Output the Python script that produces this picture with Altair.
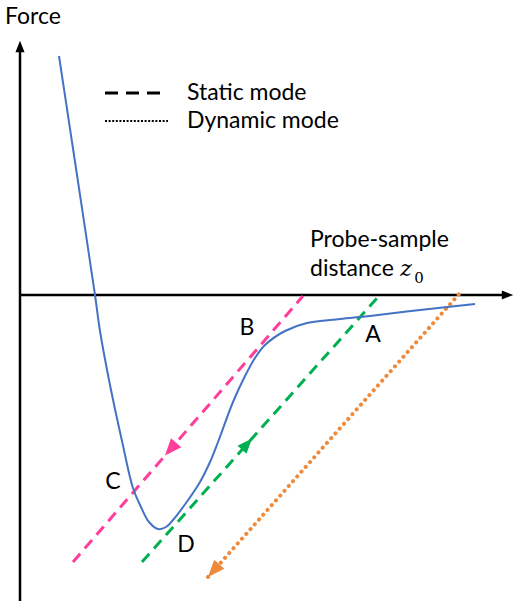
import numpy as np
import pandas as pd
import altair as alt

# Force vs. probe-sample distance (arbitrary units, 1 unit = 10 px on both axes)
curve_z = [3.9, 5.7, 7.5, 8.0, 9.0, 10.2, 11.3, 12.1, 12.9, 13.8, 14.6, 15.3, 16.6,
           18.0, 19.0, 19.8, 21.3, 22.5, 23.5, 24.5, 26.5, 28.7, 32.0, 35.0, 40.0, 45.5]
curve_f = [23.9, 12.0, 0.0, -3.6, -9.0, -14.6, -19.3, -21.2, -22.7, -23.4, -23.2, -22.5, -20.8,
           -18.7, -16.7, -14.7, -10.7, -8.1, -6.3, -5.0, -3.6, -2.8, -2.4, -2.1, -1.5, -0.9]

# Approach / retract paths: start and end points
path_names = ["static_left", "static_right", "dynamic"]
path_colors = ["#FF3D9A", "#00B050", "#F08A3A"]
path_z0 = [5.3, 12.2, 18.8]
path_z1 = [28.3, 35.8, 44.0]
path_f0 = [-26.7, -26.7, -28.2]
path_f1 = [-0.1, -0.2, 0.2]
# arrowhead: fraction along the path where the tip sits, and direction (+1 toward end)
arrow_t = [0.40, 0.466, 0.0]
arrow_dir = [-1, 1, -1]
arrow_len = [1.7, 1.5, 1.7]

# Labelled points
point_labels = ["A", "B", "C", "D"]
point_z = [35.3, 22.7, 9.3, 16.6]
point_f = [-4.0, -3.3, -18.7, -25.0]

# Axes extents
x_axis_end = 49.3
y_axis_bottom = -30.6
y_axis_top = 25.4

ARROW = "M0,-1L0.8,1L-0.8,1Z"
FONT = "Lato"

X = alt.Scale(domain=[-2.0, 49.4], nice=False, zero=False)
Y = alt.Scale(domain=[-30.8, 29.5], nice=False, zero=False)


def xenc(field):
    return alt.X(f"{field}:Q", scale=X, axis=None)


def yenc(field):
    return alt.Y(f"{field}:Q", scale=Y, axis=None)


# --- axes -------------------------------------------------------------------
axes_df = pd.DataFrame({
    "z": [0.0, 0.0], "z2": [x_axis_end - 0.6, 0.0],
    "f": [0.0, y_axis_bottom], "f2": [0.0, y_axis_top - 0.6],
})
axes = alt.Chart(axes_df).mark_rule(color="black", strokeWidth=2.5).encode(
    x=xenc("z"), x2="z2", y=yenc("f"), y2="f2")

axis_heads_df = pd.DataFrame({
    "z": [x_axis_end - 0.55, 0.0], "f": [0.0, y_axis_top - 0.55], "angle": [90.0, 0.0],
})
axis_heads = alt.Chart(axis_heads_df).mark_point(
    shape=ARROW, filled=True, color="black", opacity=1, size=130, strokeWidth=0
).encode(x=xenc("z"), y=yenc("f"), angle=alt.Angle("angle:Q", scale=None))

# --- force curve ------------------------------------------------------------
curve_df = pd.DataFrame({"z": curve_z, "f": curve_f})
curve = alt.Chart(curve_df).mark_line(
    color="#4472C4", strokeWidth=2, interpolate="catmull-rom"
).encode(x=xenc("z"), y=yenc("f"))

# --- paths ------------------------------------------------------------------
rows = []
for name, c, z0, z1, f0, f1 in zip(path_names, path_colors, path_z0, path_z1, path_f0, path_f1):
    rows.append({"name": name, "color": c, "z": z0, "f": f0})
    rows.append({"name": name, "color": c, "z": z1, "f": f1})
paths_df = pd.DataFrame(rows)

static = alt.Chart(paths_df[paths_df.name != "dynamic"]).mark_line(
    strokeWidth=3, strokeDash=[11, 7]
).encode(x=xenc("z"), y=yenc("f"), detail="name:N",
         color=alt.Color("color:N", scale=None))

dynamic = alt.Chart(paths_df[paths_df.name == "dynamic"]).mark_line(
    strokeWidth=4, strokeDash=[0.1, 6.3], strokeCap="round"
).encode(x=xenc("z"), y=yenc("f"), color=alt.Color("color:N", scale=None))

heads = []
for c, z0, z1, f0, f1, t, d, L in zip(path_colors, path_z0, path_z1, path_f0, path_f1,
                                      arrow_t, arrow_dir, arrow_len):
    dz, df = z1 - z0, f1 - f0
    n = np.hypot(dz, df)
    uz, uf = d * dz / n, d * df / n
    tip_z, tip_f = z0 + t * dz, f0 + t * df
    heads.append({"color": c, "z": tip_z - uz * L / 2, "f": tip_f - uf * L / 2,
                  "size": (L * 10) ** 2,
                  "angle": float(np.degrees(np.arctan2(uz, uf)) % 360)})
heads_df = pd.DataFrame(heads)
path_heads = alt.Chart(heads_df).mark_point(
    shape=ARROW, filled=True, opacity=1, strokeWidth=0
).encode(x=xenc("z"), y=yenc("f"), color=alt.Color("color:N", scale=None),
         size=alt.Size("size:Q", scale=None),
         angle=alt.Angle("angle:Q", scale=None))

# --- legend -----------------------------------------------------------------
legend_labels = ["Static mode", "Dynamic mode"]
legend_f = [20.2, 17.4]
legend_z0 = [8.5, 8.5]
legend_z1 = [14.6, 14.8]
legend_text_z = 16.7

leg_df = pd.DataFrame({"label": legend_labels, "f": legend_f,
                       "z": legend_z0, "z2": legend_z1})
leg_dash = alt.Chart(leg_df.iloc[[0]]).mark_rule(
    color="black", strokeWidth=3, strokeDash=[13, 8]
).encode(x=xenc("z"), x2="z2", y=yenc("f"))
leg_dot = alt.Chart(leg_df.iloc[[1]]).mark_rule(
    color="black", strokeWidth=2, strokeDash=[2, 1.6]
).encode(x=xenc("z"), x2="z2", y=yenc("f"))
leg_text = alt.Chart(leg_df.assign(tz=legend_text_z)).mark_text(
    font=FONT, fontSize=23, align="left", baseline="middle", color="black"
).encode(x=xenc("tz"), y=yenc("f"), text="label:N")

# --- text labels ------------------------------------------------------------
pts_df = pd.DataFrame({"label": point_labels, "z": point_z, "f": point_f})
pts_text = alt.Chart(pts_df).mark_text(
    font=FONT, fontSize=23, align="center", baseline="middle", color="black"
).encode(x=xenc("z"), y=yenc("f"), text="label:N")

title_df = pd.DataFrame({"label": ["Force", "Probe-sample", "distance"],
                         "z": [-1.5, 29.0, 29.0], "f": [27.8, 5.5, 2.6]})
titles = alt.Chart(title_df).mark_text(
    font=FONT, fontSize=23, align="left", baseline="middle", color="black"
).encode(x=xenc("z"), y=yenc("f"), text="label:N")

zvar = alt.Chart(pd.DataFrame({"label": ["z"], "z": [38.6], "f": [2.6]})).mark_text(
    font="DejaVu Serif", fontStyle="italic", fontSize=22, align="center",
    baseline="middle", color="black"
).encode(x=xenc("z"), y=yenc("f"), text="label:N")
zsub = alt.Chart(pd.DataFrame({"label": ["0"], "z": [39.9], "f": [1.7]})).mark_text(
    font="DejaVu Serif", fontSize=15, align="center", baseline="middle", color="black"
).encode(x=xenc("z"), y=yenc("f"), text="label:N")

chart = alt.layer(
    axes, axis_heads, static, dynamic, path_heads, curve,
    leg_dash, leg_dot, leg_text, pts_text, titles, zvar, zsub
).properties(
    width=514, height=603, padding=0, autosize=alt.AutoSizeParams(type="none"),
    background="white"
).configure_view(stroke=None)

chart.save("out.html", embed_options={"renderer": "svg", "actions": False})
